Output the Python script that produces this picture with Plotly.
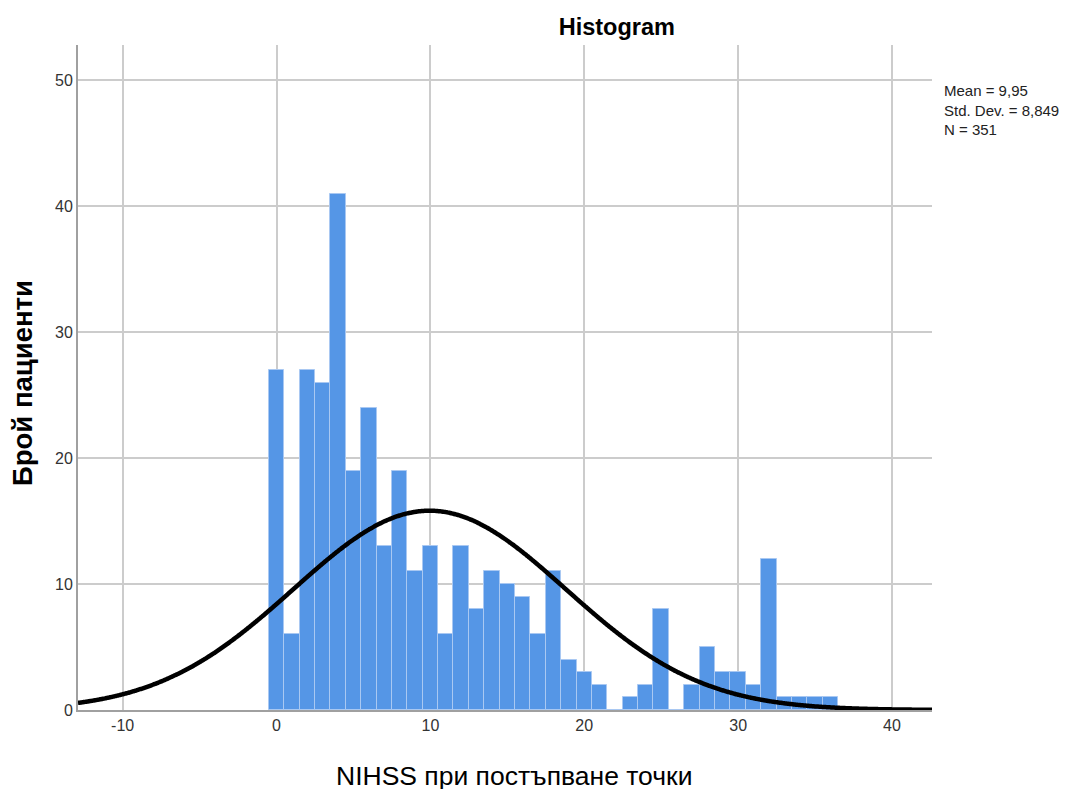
import numpy as np
import plotly.graph_objects as go

# NIHSS score (bin centres) and counts
scores = list(range(0, 37))
counts = [27, 6, 27, 26, 41, 19, 24, 13, 19, 11, 13, 6, 13, 8, 11, 10, 9, 6, 11,
          4, 3, 2, 0, 1, 2, 8, 0, 2, 5, 3, 3, 2, 12, 1, 1, 1, 1]
mean_val = 9.95
sd_val = 8.849
n_val = 351
x_ticks = [-10, 0, 10, 20, 30, 40]
x_tick_text = ["-10", "0", "10", "20", "30", "40"]
y_ticks = [0, 10, 20, 30, 40, 50]

x_range = [-12.9, 42.6]
y_range = [0, 52.8]

# fitted normal curve (bin width 1)
xc = np.linspace(x_range[0], x_range[1], 600)
yc = n_val * 1.0 / (sd_val * np.sqrt(2 * np.pi)) * np.exp(-0.5 * ((xc - mean_val) / sd_val) ** 2)

fig = go.Figure()
fig.add_trace(go.Bar(
    x=scores, y=counts, width=1.0,
    marker=dict(color="#5596E6", line=dict(color="#A9C8F2", width=1)),
    showlegend=False, hoverinfo="x+y"))
fig.add_trace(go.Scatter(
    x=xc, y=yc, mode="lines",
    line=dict(color="black", width=4.5, simplify=False, shape="spline"),
    showlegend=False, hoverinfo="skip"))

fig.update_layout(
    width=1070, height=789,
    margin=dict(l=70, r=146, t=37, b=87),
    paper_bgcolor="white", plot_bgcolor="white",
    font=dict(family="Liberation Sans, Arial, sans-serif", color="#222222"),
    title=dict(text="<b>Histogram</b>", x=0.569, xanchor="center", y=0.976, yanchor="middle",
               font=dict(size=23.5, color="black")),
    bargap=0,
    xaxis=dict(range=x_range, tickvals=x_ticks, ticktext=x_tick_text,
               showgrid=True, gridcolor="#cccccc", gridwidth=1.5,
               zeroline=False, showline=True, linecolor="#a0a0a0", linewidth=2,
               ticks="", tickfont=dict(size=16, color="#333333")),
    yaxis=dict(range=y_range, tickvals=y_ticks, showgrid=True, gridcolor="#cccccc", gridwidth=1.5,
               zeroline=False, showline=True, linecolor="#a0a0a0", linewidth=2,
               ticks="", tickfont=dict(size=16, color="#333333")),
)

# axis titles
fig.add_annotation(
    xref="paper", yref="paper", x=0.5105, y=-0.0992, xanchor="center", yanchor="middle",
    showarrow=False, text="NIHSS при постъпване точки",
    font=dict(size=26.5, color="black"))
fig.add_annotation(
    xref="paper", yref="paper", x=-0.0656, y=0.4917, xanchor="center", yanchor="middle",
    showarrow=False, textangle=-90, text="<b>Брой пациенти</b>",
    font=dict(size=27.5, color="black"))

# statistics box
fig.add_annotation(
    xref="paper", yref="paper", x=1.012, y=0.947, xanchor="left", yanchor="top",
    align="left", showarrow=False,
    text=f"Mean = 9,95<br>Std. Dev. = 8,849<br>N = {n_val}",
    font=dict(size=15, color="#222222"))

fig.write_html("out.html")
